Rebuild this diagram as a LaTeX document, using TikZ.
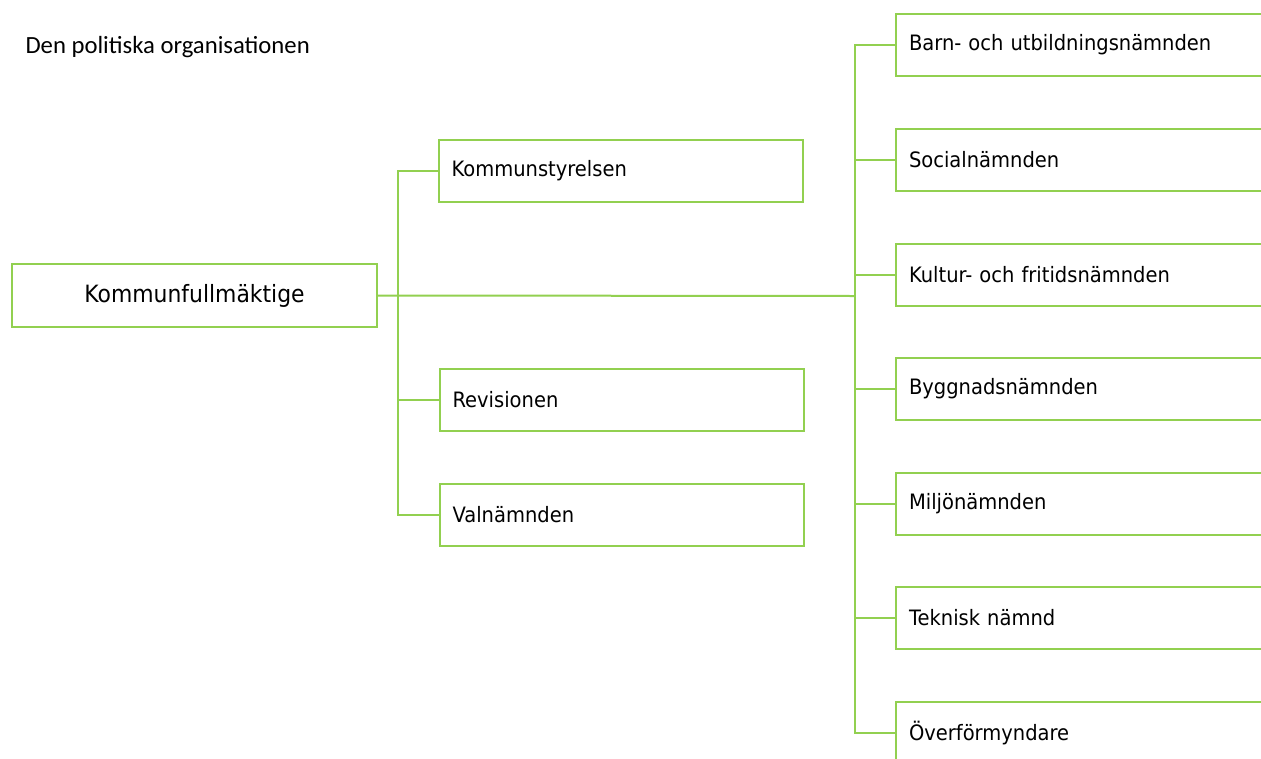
\documentclass[tikz,border=0pt]{standalone}
\usepackage{fontspec}
\setmainfont{Carlito}
\newfontfamily\boxfont{DejaVu Sans}[FakeStretch=0.92]
\definecolor{orggreen}{RGB}{146,208,80}

\begin{document}
\begin{tikzpicture}[x=1pt,y=-1pt,
  link/.style={draw=orggreen, line width=2pt},
  orgbox/.style={draw=orggreen, line width=2pt, fill=white, minimum height=62pt,
    inner xsep=13pt, inner ysep=0pt, align=left, font=\boxfont\fontsize{21.2}{25}\selectfont},
  midbox/.style={orgbox, text width=338pt},
  sidebox/.style={orgbox, text width=400pt}]
  \useasboundingbox (0,0) rectangle (1261,758);
  \clip (0,0) rectangle (1261,758);

  \node[anchor=west, font=\fontsize{24.7}{28}\selectfont] (title) at (22,47) {Den politiska organisationen};

  % root
  \node[draw=orggreen, line width=2pt, minimum width=365pt, minimum height=63pt,
    font=\boxfont\fontsize{23.8}{28}\selectfont] (kf) at (194.5,295.5) {Kommunfullmäktige};

  % second column
  \node[midbox] (ks) at (620.5,171) {Kommunstyrelsen};
  \node[midbox] (rv) at (621.5,399.5) {Revisionen};
  \node[midbox] (vn) at (621.5,514.5) {Valnämnden};

  % third column
  \node[sidebox, anchor=west] (bu) at (895,45) {Barn- och utbildningsnämnden};
  \node[sidebox, anchor=west] (sn) at (895,160) {Socialnämnden};
  \node[sidebox, anchor=west] (kn) at (895,275) {Kultur- och fritidsnämnden};
  \node[sidebox, anchor=west] (bn) at (895,389) {Byggnadsnämnden};
  \node[sidebox, anchor=west] (mn) at (895,504) {Miljönämnden};
  \node[sidebox, anchor=west] (tn) at (895,618) {Teknisk nämnd};
  \node[sidebox, anchor=west] (of) at (895,733) {Överförmyndare};

  \coordinate (lj) at (398,296);
  \coordinate (rj) at (855,296);

  \draw[link] (kf.east) -- (rj);
  \draw[link] (ks.west) -| (lj) |- (vn.west);
  \draw[link] (rv.west) -- (rv.west -| lj);
  \draw[link] (bu.west) -| (rj) |- (of.west);
  \foreach \n in {sn,kn,bn,mn,tn}
    \draw[link] (\n.west) -- (\n.west -| rj);
\end{tikzpicture}
\end{document}
